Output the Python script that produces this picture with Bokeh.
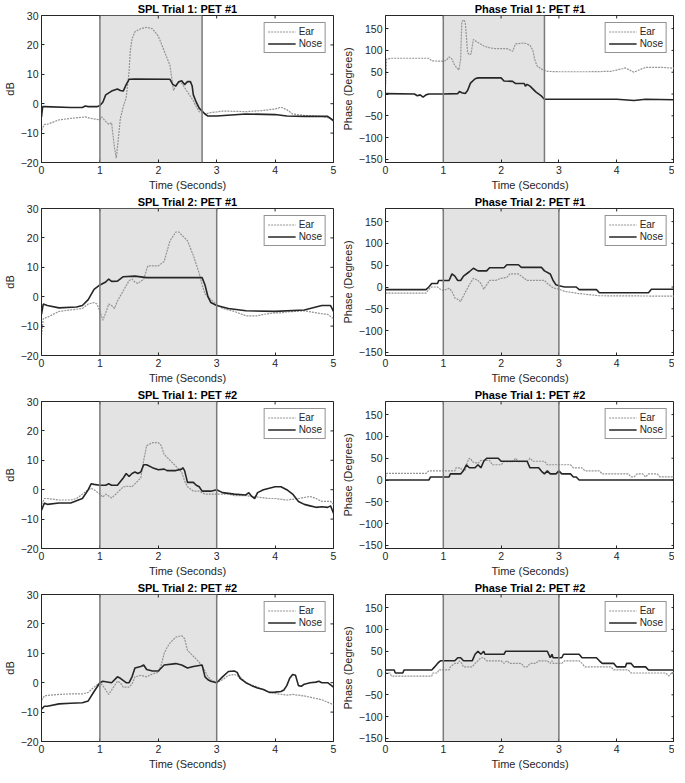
from bokeh.plotting import figure
from bokeh.models import (ColumnDataSource, FixedTicker, Range1d, Legend, LegendItem, BoxAnnotation, Span)
from bokeh.layouts import gridplot
from bokeh.embed import file_html
from bokeh.resources import INLINE

# ---------------- data ----------------
x_ticks = [0, 1, 2, 3, 4, 5]
spl_ticks = [-20, -10, 0, 10, 20, 30]
phase_ticks = [-150, -100, -50, 0, 50, 100, 150]

titles = ["SPL Trial 1: PET #1", "Phase Trial 1: PET #1",
          "SPL Trial 2: PET #1", "Phase Trial 2: PET #1",
          "SPL Trial 1: PET #2", "Phase Trial 1: PET #2",
          "SPL Trial 2: PET #2", "Phase Trial 2: PET #2"]
shade_start = [1, 1, 1, 1, 1, 1, 1, 1]
shade_end = [2.75, 2.75, 3, 3, 3, 3, 3, 3]

# Panel 1: SPL Trial 1 PET 1
p1_ear_t = [0, 0.05, 0.1, 0.3, 0.5, 0.75, 0.85, 1.0, 1.03, 1.1, 1.15, 1.2, 1.22, 1.25, 1.28, 1.3, 1.35, 1.4, 1.45,
            1.5, 1.52, 1.55, 1.6, 1.7, 1.8, 1.9, 2.0, 2.1, 2.2, 2.26, 2.3, 2.35, 2.4, 2.45, 2.5, 2.6, 2.65, 2.7,
            2.75, 2.8, 2.9, 3.0, 3.1, 3.5, 3.8, 4.0, 4.1, 4.2, 4.3, 4.5, 4.8, 4.95, 5.0]
p1_ear_v = [-9, -7, -7, -5.5, -5, -4.5, -5, -5.5, -4.5, -6, -7, -6.5, -10, -15, -18.5, -15, -5, -1, 2,
            11, 18, 22, 24.5, 25.5, 26, 25.5, 23, 18, 13, 4.5, 6, 7.5, 7, 5.5, 4, 1, -1, -2.7,
            -3, -3.5, -3, -2.8, -2.5, -2.7, -2.3, -1.8, -1.2, -2, -3.5, -4, -4.3, -5, -5.8]
p1_nose_t = [0, 0.02, 0.05, 0.5, 0.7, 0.75, 0.8, 0.95, 1.0, 1.05, 1.1, 1.2, 1.3, 1.35, 1.4, 1.45, 1.5, 1.6, 2.2,
             2.25, 2.3, 2.35, 2.4, 2.45, 2.5, 2.55, 2.58, 2.6, 2.65, 2.7, 2.8, 2.85, 3.0, 3.5, 4.0, 4.2, 4.5,
             4.9, 5.0]
p1_nose_v = [-4.5, -1, -1, -1.3, -1.3, -0.8, -1, -1, -0.6, 0.5, 3, 4.3, 5, 4.5, 4.3, 6.5, 8.3, 8.4, 8.3,
             6.5, 6, 7.5, 7.8, 6.5, 7.5, 7.5, 6, 3, 0.5, -1.5, -3.5, -4.2, -4.2, -3.5, -3.7, -4.2, -4.3,
             -4.3, -5.8]

# Panel 2: Phase Trial 1 PET 1
p2_ear_t = [0, 0.02, 0.1, 0.75, 0.8, 1.0, 1.05, 1.1, 1.15, 1.2, 1.27, 1.3, 1.32, 1.35, 1.38, 1.42, 1.45, 1.48,
            1.52, 1.6, 1.7, 1.8, 1.9, 2.1, 2.2, 2.25, 2.4, 2.5, 2.55, 2.58, 2.62, 2.7, 2.8, 3.0, 3.5, 3.9, 4.1,
            4.15, 4.25, 4.3, 4.4, 4.5, 4.8, 5.0]
p2_ear_v = [15, 80, 82, 82, 76, 75, 77, 85, 80, 65, 55, 80, 165, 170, 165, 95, 90, 92,
            125, 118, 110, 106, 104, 104, 98, 115, 117, 112, 100, 80, 65, 57, 52, 51, 51, 52, 58,
            60, 53, 50, 56, 61, 61, 59]
p2_nose_t = [0, 0.5, 0.55, 0.6, 0.65, 0.7, 0.75, 1.0, 1.25, 1.28, 1.32, 1.38, 1.42, 1.47, 1.55, 1.6, 2.0, 2.05,
             2.2, 2.25, 2.4, 2.42, 2.45, 2.5, 2.6, 2.7, 2.75, 3.0, 4.0, 4.3, 4.5, 5.0]
p2_nose_v = [1, 0, -4, -2, -7, -2, 0, 0, 1, 6, 3, 1, 8, 25, 35, 37, 37, 30,
             29, 24, 24, 18, 22, 18, 5, -5, -12, -12, -12, -15, -12, -13]

# Panel 3: SPL Trial 2 PET 1
p3_ear_t = [0, 0.03, 0.1, 0.3, 0.5, 0.7, 0.8, 0.9, 0.95, 1.0, 1.05, 1.1, 1.15, 1.2, 1.25, 1.3, 1.4, 1.5, 1.55,
            1.6, 1.65, 1.75, 1.82, 2.0, 2.1, 2.2, 2.3, 2.35, 2.5, 2.6, 2.7, 2.75, 2.8, 2.9, 3.0, 3.1, 3.3, 3.5,
            3.7, 3.8, 4.0, 4.1, 4.2, 4.5, 4.8, 4.9, 5.0]
p3_ear_v = [-13, -7.5, -7, -5, -4.5, -4, -2.5, -2, -2.5, -5, -8, -5.5, -2.5, -3, -4, -1.5, 2, 5.5, 6,
            5, 4.5, 6, 10.5, 10.5, 12, 19, 22, 22, 19, 14, 8, 4, 1, -1, -2.5, -4, -5, -6.5,
            -6.5, -6, -5.5, -5.5, -5.2, -4.8, -5.8, -6, -7.5]
p3_nose_t = [0, 0.03, 0.1, 0.3, 0.6, 0.7, 0.8, 0.9, 1.0, 1.1, 1.15, 1.2, 1.3, 1.4, 1.6, 1.8, 2.5, 2.75, 2.8,
             2.85, 2.9, 3.0, 3.2, 3.5, 4.0, 4.5, 4.8, 4.95, 5.0]
p3_nose_v = [-6, -2.5, -3, -3.8, -3.5, -3, -1, 2.5, 4, 5, 6, 5.2, 5.3, 6.8, 7, 6.5, 6.5, 6.5, 4,
             0, -2, -3, -4, -4.8, -5, -4.5, -3, -3, -5]

# Panel 4: Phase Trial 2 PET 1
p4_ear_t = [0, 0.7, 0.75, 0.8, 0.9, 0.95, 1.0, 1.1, 1.15, 1.2, 1.25, 1.3, 1.35, 1.45, 1.52, 1.6, 1.65, 1.7,
            1.75, 1.8, 1.9, 2.0, 2.1, 2.15, 2.3, 2.4, 2.45, 2.75, 2.8, 2.9, 3.0, 3.1, 3.35, 3.7, 5.0]
p4_ear_v = [-14, -14, -5, 0, 0, -5, -8, -3, -10, -25, -28, -33, -20, 5, 20, 15, 8, -5,
            5, 15, 15, 20, 22, 30, 30, 20, 15, 15, 8, -2, -5, -10, -15, -20, -21]
p4_nose_t = [0, 0.7, 0.75, 0.8, 0.9, 0.92, 1.1, 1.15, 1.2, 1.25, 1.3, 1.35, 1.45, 1.52, 1.6, 1.75, 1.8, 2.05,
             2.1, 2.3, 2.35, 2.7, 2.75, 2.85, 2.9, 2.95, 3.0, 3.1, 3.3, 3.35, 3.65, 3.7, 4.55, 4.6, 5.0]
p4_nose_v = [-6, -6, 0, 8, 8, 15, 15, 30, 25, 15, 15, 25, 35, 43, 37, 37, 44, 44,
             51, 51, 45, 45, 37, 30, 15, 5, 3, 0, 0, -6, -6, -13, -13, -5, -5]

# Panel 5: SPL Trial 1 PET 2
p5_ear_t = [0, 0.05, 0.1, 0.3, 0.5, 0.6, 0.7, 0.8, 0.85, 0.9, 1.0, 1.05, 1.1, 1.2, 1.3, 1.4, 1.5, 1.55, 1.6,
            1.7, 1.75, 1.8, 1.9, 2.0, 2.05, 2.1, 2.2, 2.3, 2.4, 2.45, 2.5, 2.6, 2.7, 2.8, 3.0, 3.2, 3.3, 3.5,
            3.7, 3.9, 4.0, 4.2, 4.4, 4.6, 4.7, 4.8, 4.95, 5.0]
p5_ear_v = [-5, -3, -3, -3.5, -3.5, -3, -1.5, 0, 0.5, 0, -1.5, -2.5, -1.5, -2.8, -1, 1, 1.2, 1, 2,
            4, 10, 15, 16, 16, 15, 12, 10, 8, 6, 3, 1, -0.5, -0.5, -1.5, -1.5, -1.5, -2, -2,
            -2.5, -3, -3, -3.5, -3, -2.3, -3, -4, -4, -5]
p5_nose_t = [0, 0.05, 0.1, 0.3, 0.5, 0.7, 0.8, 0.85, 0.9, 1.0, 1.1, 1.15, 1.2, 1.3, 1.4, 1.45, 1.5, 1.55, 1.6,
             1.65, 1.7, 1.75, 1.8, 1.9, 2.0, 2.1, 2.15, 2.3, 2.4, 2.42, 2.45, 2.5, 2.6, 2.65, 2.7, 2.75, 2.9,
             3.0, 3.1, 3.3, 3.5, 3.55, 3.6, 3.65, 3.7, 3.8, 3.9, 4.0, 4.1, 4.2, 4.3, 4.4, 4.5, 4.6, 4.7,
             4.8, 4.9, 4.95, 5.0]
p5_nose_v = [-7, -4.5, -5, -4.5, -4.5, -3, 0, 2, 1.8, 1.5, 1.5, 2, 1.5, 1.5, 4, 5.5, 4.5, 5.5, 6,
             5.5, 6, 8.5, 8.5, 7.5, 6.8, 7, 6.5, 6.5, 7, 7.5, 6.5, 2.5, 2.5, 1.5, 1, -0.5, -0.5,
             0, -1, -1.5, -1.8, -1, -2.3, -3, -1, 0, 0.5, 1, 1, 0, -1.5, -4, -5, -5.5, -6,
             -5.8, -6, -5.5, -8]

# Panel 6: Phase Trial 1 PET 2
p6_ear_t = [0, 0.02, 0.7, 0.75, 1.2, 1.22, 1.3, 1.32, 1.38, 1.4, 1.42, 1.45, 1.48, 1.5, 1.6, 1.65, 1.8, 1.85,
            2.0, 2.05, 2.2, 2.25, 2.3, 2.45, 2.5, 2.55, 2.75, 2.8, 3.2, 3.25, 3.4, 3.45, 3.7, 3.75, 4.2, 4.25,
            4.3, 4.35, 4.45, 4.5, 4.55, 4.7, 4.75, 5.0]
p6_ear_v = [7, 15, 15, 21, 21, 28, 28, 22, 22, 35, 42, 50, 48, 42, 38, 45, 45, 35,
            35, 42, 42, 50, 42, 42, 50, 43, 43, 35, 35, 28, 28, 21, 21, 14, 14, 7,
            7, 14, 14, 7, 14, 14, 7, 7]
p6_nose_t = [0, 0.75, 0.78, 1.1, 1.12, 1.3, 1.35, 1.4, 1.45, 1.55, 1.6, 1.65, 1.7, 1.75, 1.95, 2.0, 2.45, 2.5,
             2.65, 2.7, 2.75, 2.8, 2.85, 2.95, 3.0, 3.05, 3.2, 3.25, 3.3, 3.35, 5.0]
p6_nose_v = [0, 0, 7, 7, 14, 14, 22, 35, 28, 28, 35, 28, 43, 50, 50, 43, 43, 28,
             28, 20, 14, 21, 14, 14, 21, 14, 14, 7, 7, 0, 0]

# Panel 7: SPL Trial 2 PET 2
p7_ear_t = [0, 0.05, 0.1, 0.3, 0.5, 0.7, 0.8, 0.9, 1.0, 1.05, 1.1, 1.15, 1.2, 1.3, 1.35, 1.4, 1.5, 1.55, 1.6,
            1.7, 1.8, 1.9, 2.0, 2.05, 2.1, 2.15, 2.2, 2.3, 2.4, 2.45, 2.5, 2.6, 2.7, 2.8, 2.85, 2.9, 3.0, 3.1,
            3.2, 3.3, 3.4, 3.5, 3.7, 3.8, 3.9, 4.0, 4.2, 4.3, 4.5, 4.8, 5.0]
p7_ear_v = [-6, -4.5, -4.3, -4, -3.8, -3.8, -3.3, -1.5, 0, -1, -2.5, -4, -2.5, 0.5, 0, -1.5, -1.5, -0.5, 2,
            2.5, 2, 3, 3.5, 6, 10, 12, 13.5, 15.5, 16, 15, 11, 9, 7, 4, 2, 1, 0, 1,
            2.5, 2.8, 2, 0, -1.5, -2.3, -3.2, -3.7, -4.2, -4, -4.5, -5.8, -7.5]
p7_nose_t = [0, 0.05, 0.1, 0.3, 0.5, 0.7, 0.8, 0.9, 1.0, 1.05, 1.2, 1.3, 1.35, 1.45, 1.5, 1.55, 1.6, 1.7, 1.75,
             1.8, 1.9, 2.0, 2.05, 2.1, 2.3, 2.4, 2.5, 2.6, 2.75, 2.8, 2.85, 2.9, 3.0, 3.1, 3.2, 3.3, 3.35, 3.4,
             3.5, 3.6, 3.7, 3.8, 3.9, 4.0, 4.1, 4.15, 4.2, 4.25, 4.3, 4.35, 4.4, 4.45, 4.5, 4.6, 4.7, 4.75,
             4.8, 4.9, 5.0]
p7_nose_v = [-9, -8, -8, -7.2, -7, -6.8, -6.2, -3, 0, 0.5, 0, 2, 1.5, 0, 0, 2, 5, 5.5, 6,
             4.5, 4, 4, 5, 6, 6.5, 6, 5, 5.5, 6, 2, 1, 0.5, 0, 2, 3.8, 4, 3.5, 1.5,
             0, -1, -1.8, -2.3, -3.3, -3.2, -3, -2.5, -1, 1.5, 2.8, 2.5, -1, -1.2, -0.5, 0, 0.2, 0.5,
             0, 0, -1.5]

# Panel 8: Phase Trial 2 PET 2
p8_ear_t = [0, 0.08, 0.1, 0.8, 0.82, 0.9, 0.92, 1.1, 1.12, 1.2, 1.25, 1.28, 1.32, 1.35, 1.5, 1.55, 1.6, 1.65,
            1.7, 1.75, 2.0, 2.05, 2.1, 2.15, 2.35, 2.4, 2.45, 2.5, 2.6, 2.65, 2.8, 2.85, 2.88, 2.9, 3.05, 3.1,
            3.35, 3.4, 3.45, 3.9, 3.95, 4.2, 4.25, 4.85, 4.9, 4.95, 5.0]
p8_ear_v = [0, 0, -7, -7, 0, 0, 7, 7, 14, 22, 22, 28, 22, 14, 14, 22, 28, 35,
            35, 28, 28, 22, 28, 22, 22, 14, 14, 22, 22, 28, 28, 22, 28, 22, 22, 28,
            28, 22, 14, 14, 7, 7, 0, 0, -7, 0, 0]
p8_nose_t = [0, 0.15, 0.17, 0.3, 0.32, 0.8, 0.85, 0.9, 0.95, 1.2, 1.25, 1.3, 1.35, 1.5, 1.55, 1.6, 1.65, 1.7,
             1.72, 2.05, 2.08, 2.8, 2.85, 2.88, 2.9, 3.05, 3.08, 3.35, 3.4, 3.65, 3.7, 3.75, 3.95, 4.0, 4.15,
             4.17, 4.25, 4.3, 4.5, 4.55, 5.0]
p8_nose_v = [7, 7, 0, 0, 7, 7, 14, 22, 28, 28, 35, 35, 28, 28, 43, 50, 43, 50,
             43, 43, 50, 50, 35, 43, 35, 35, 43, 43, 35, 35, 28, 22, 22, 14, 14,
             22, 22, 14, 14, 7, 7]

ear_t = [p1_ear_t, p2_ear_t, p3_ear_t, p4_ear_t, p5_ear_t, p6_ear_t, p7_ear_t, p8_ear_t]
ear_v = [p1_ear_v, p2_ear_v, p3_ear_v, p4_ear_v, p5_ear_v, p6_ear_v, p7_ear_v, p8_ear_v]
nose_t = [p1_nose_t, p2_nose_t, p3_nose_t, p4_nose_t, p5_nose_t, p6_nose_t, p7_nose_t, p8_nose_t]
nose_v = [p1_nose_v, p2_nose_v, p3_nose_v, p4_nose_v, p5_nose_v, p6_nose_v, p7_nose_v, p8_nose_v]

# ---------------- styling ----------------
FONT = "Liberation Sans"
TXT = "#262626"
AX = "#262626"
FIG_H = 193
PLOT_H = 148  # approx. inner plot height in px, used only for box tick length
TICK_PX = 3


def make_fig(i):
    is_phase = (i % 2 == 1)
    if is_phase:
        y0, y1 = -157, 180
        yt = phase_ticks
        ylab = "Phase (Degrees)"
        w, mbl, mbr = 336, 39, 0
    else:
        y0, y1 = -20, 30
        yt = spl_ticks
        ylab = "dB"
        w, mbl, mbr = 338, 30, 5
    p = figure(width=w, height=FIG_H, x_range=Range1d(0, 5), y_range=Range1d(y0, y1),
               output_backend="svg", toolbar_location=None,
               min_border_left=mbl, min_border_right=mbr, min_border_top=0, min_border_bottom=2)
    p.title.text = titles[i]
    p.title.align = "center"
    p.title.text_font = FONT
    p.title.text_font_size = "11px"
    p.title.text_font_style = "bold"
    p.title.text_color = "#000000"
    p.title.offset = 0
    p.title.standoff = 1
    p.grid.visible = False
    p.outline_line_color = AX
    p.outline_line_width = 1
    p.background_fill_color = "white"

    p.add_layout(BoxAnnotation(left=shade_start[i], right=shade_end[i], fill_color="#e3e3e3",
                               fill_alpha=1, line_color=None, level="underlay"))
    for xv in (shade_start[i], shade_end[i]):
        p.add_layout(Span(location=xv, dimension="height", line_color="#7a7a7a", line_width=1.5))

    # MATLAB-style box ticks on the top and right edges (derived from tick lists)
    dy = (y1 - y0) * TICK_PX / PLOT_H
    dx = 5.0 * TICK_PX / 290.0
    p.segment(x0=x_ticks, y0=[y1] * len(x_ticks), x1=x_ticks, y1=[y1 - dy] * len(x_ticks),
              line_color=AX, line_width=1)
    p.segment(x0=[5] * len(yt), y0=yt, x1=[5 - dx] * len(yt), y1=yt, line_color=AX, line_width=1)

    src_e = ColumnDataSource(dict(t=ear_t[i], v=ear_v[i]))
    src_n = ColumnDataSource(dict(t=nose_t[i], v=nose_v[i]))
    r_e = p.line("t", "v", source=src_e, line_color="#949494", line_width=1.2, line_dash="2 1")
    r_n = p.line("t", "v", source=src_n, line_color="#262626", line_width=1.6)

    leg = Legend(items=[LegendItem(label="Ear", renderers=[r_e]),
                        LegendItem(label="Nose", renderers=[r_n])],
                 location="top_right")
    leg.label_text_font = FONT
    leg.label_text_font_size = "10px"
    leg.label_text_color = TXT
    leg.label_height = 10
    leg.glyph_height = 11
    leg.glyph_width = 28
    leg.label_standoff = 3
    leg.spacing = 1
    leg.padding = 3
    leg.margin = 7
    leg.border_line_color = AX
    leg.border_line_width = 1
    leg.background_fill_alpha = 1
    p.add_layout(leg)

    for ax in (p.xaxis[0], p.yaxis[0]):
        ax.major_label_text_font = FONT
        ax.major_label_text_font_size = "10.5px"
        ax.major_label_text_color = TXT
        ax.axis_label_text_font = FONT
        ax.axis_label_text_font_size = "11px"
        ax.axis_label_text_font_style = "normal"
        ax.axis_label_text_color = TXT
        ax.axis_line_color = AX
        ax.major_tick_line_color = AX
        ax.major_tick_in = 3
        ax.major_tick_out = 0
        ax.minor_tick_line_color = None
        ax.major_label_standoff = 3
        ax.axis_label_standoff = 2
    p.xaxis[0].ticker = FixedTicker(ticks=x_ticks)
    p.yaxis[0].ticker = FixedTicker(ticks=yt)
    p.xaxis[0].axis_label = "Time (Seconds)"
    p.yaxis[0].axis_label = ylab
    return p


figs = [make_fig(i) for i in range(8)]
grid = gridplot([figs[0:2], figs[2:4], figs[4:6], figs[6:8]], toolbar_location=None)

open("out.html", "w").write(file_html(grid, INLINE))
